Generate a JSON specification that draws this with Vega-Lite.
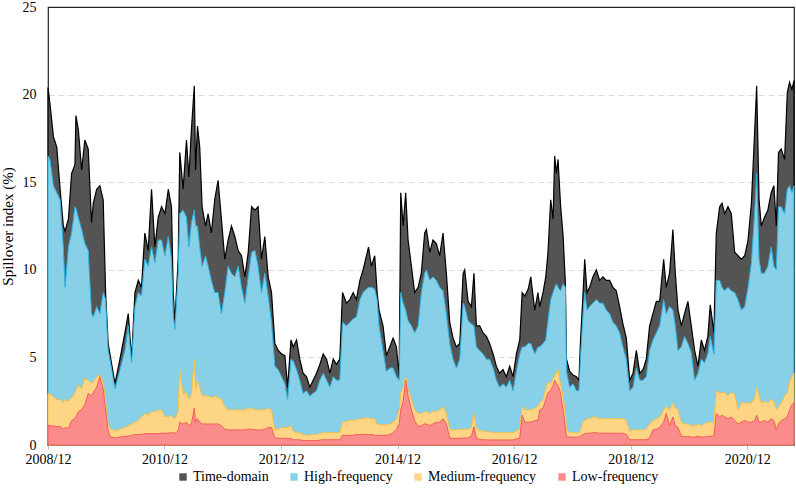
{
  "$schema": "https://vega.github.io/schema/vega-lite/v6.json",
  "width": 746,
  "height": 438,
  "autosize": {"type": "none"},
  "padding": {"left": 48, "top": 7, "right": 2, "bottom": 43},
  "background": "white",
  "config": {
    "font": "'Liberation Serif', 'Times New Roman', serif",
    "view": {"stroke": "#222222", "strokeWidth": 1.2},
    "axis": {"labelFont": "'Liberation Serif', 'Times New Roman', serif", "titleFont": "'Liberation Serif', 'Times New Roman', serif", "labelColor": "#000", "titleColor": "#000"},
    "legend": {"labelFont": "'Liberation Serif', 'Times New Roman', serif", "labelFontSize": 14, "labelColor": "#000"}
  },
  "data": {
    "values": [
      {"d": "2008-12-01", "td": 20.4, "hf": 16.5, "mf": 2.95, "lf": 1.14},
      {"d": "2008-12-13", "td": 19.5, "hf": 16.3, "mf": 2.9, "lf": 1.1},
      {"d": "2009-01-04", "td": 17.6, "hf": 14.8, "mf": 2.76, "lf": 1.09},
      {"d": "2009-01-25", "td": 17.0, "hf": 14.4, "mf": 2.6, "lf": 1.05},
      {"d": "2009-02-15", "td": 14.6, "hf": 14.0, "mf": 2.6, "lf": 1.05},
      {"d": "2009-03-07", "td": 12.5, "hf": 11.3, "mf": 2.4, "lf": 0.9},
      {"d": "2009-03-18", "td": 12.2, "hf": 9.0, "mf": 2.6, "lf": 1.0},
      {"d": "2009-04-08", "td": 12.9, "hf": 11.3, "mf": 2.5, "lf": 0.95},
      {"d": "2009-04-28", "td": 15.5, "hf": 12.1, "mf": 2.7, "lf": 1.4},
      {"d": "2009-05-19", "td": 16.0, "hf": 13.6, "mf": 3.0, "lf": 1.5},
      {"d": "2009-05-25", "td": 18.8, "hf": 13.5, "mf": 3.1, "lf": 1.6},
      {"d": "2009-06-09", "td": 18.0, "hf": 13.0, "mf": 3.4, "lf": 1.9},
      {"d": "2009-06-30", "td": 15.7, "hf": 12.3, "mf": 3.2, "lf": 2.0},
      {"d": "2009-07-20", "td": 17.4, "hf": 11.5, "mf": 3.8, "lf": 2.3},
      {"d": "2009-08-10", "td": 16.9, "hf": 11.1, "mf": 3.7, "lf": 2.95},
      {"d": "2009-08-31", "td": 12.7, "hf": 7.5, "mf": 3.5, "lf": 2.8},
      {"d": "2009-09-11", "td": 13.8, "hf": 7.3, "mf": 3.6, "lf": 3.0},
      {"d": "2009-10-02", "td": 14.6, "hf": 7.9, "mf": 3.9, "lf": 3.3},
      {"d": "2009-10-22", "td": 14.8, "hf": 7.5, "mf": 4.0, "lf": 3.9},
      {"d": "2009-11-12", "td": 14.0, "hf": 8.7, "mf": 3.6, "lf": 3.2},
      {"d": "2009-11-27", "td": 8.7, "hf": 8.3, "mf": 2.5, "lf": 2.0},
      {"d": "2009-12-13", "td": 5.8, "hf": 5.4, "mf": 1.2, "lf": 0.8},
      {"d": "2009-12-24", "td": 5.2, "hf": 4.9, "mf": 0.95, "lf": 0.48},
      {"d": "2010-01-25", "td": 3.5, "hf": 3.2, "mf": 0.8, "lf": 0.4},
      {"d": "2010-02-25", "td": 4.9, "hf": 4.3, "mf": 0.9, "lf": 0.45},
      {"d": "2010-03-28", "td": 6.4, "hf": 5.4, "mf": 1.0, "lf": 0.5},
      {"d": "2010-04-18", "td": 7.5, "hf": 6.8, "mf": 1.1, "lf": 0.5},
      {"d": "2010-05-09", "td": 4.9, "hf": 4.7, "mf": 1.2, "lf": 0.55},
      {"d": "2010-05-30", "td": 8.7, "hf": 7.9, "mf": 1.3, "lf": 0.6},
      {"d": "2010-06-20", "td": 9.4, "hf": 8.7, "mf": 1.4, "lf": 0.6},
      {"d": "2010-07-10", "td": 9.0, "hf": 8.5, "mf": 1.6, "lf": 0.6},
      {"d": "2010-07-31", "td": 12.1, "hf": 10.6, "mf": 1.8, "lf": 0.65},
      {"d": "2010-08-21", "td": 11.1, "hf": 10.2, "mf": 1.7, "lf": 0.65},
      {"d": "2010-09-11", "td": 14.6, "hf": 11.3, "mf": 1.9, "lf": 0.65},
      {"d": "2010-10-02", "td": 11.3, "hf": 10.4, "mf": 1.9, "lf": 0.65},
      {"d": "2010-10-23", "td": 13.0, "hf": 11.7, "mf": 2.0, "lf": 0.65},
      {"d": "2010-11-13", "td": 13.6, "hf": 11.7, "mf": 2.0, "lf": 0.67},
      {"d": "2010-12-04", "td": 13.2, "hf": 10.8, "mf": 1.6, "lf": 0.67},
      {"d": "2010-12-25", "td": 14.6, "hf": 11.9, "mf": 1.6, "lf": 0.67},
      {"d": "2011-01-14", "td": 13.6, "hf": 10.6, "mf": 1.7, "lf": 0.7},
      {"d": "2011-01-25", "td": 8.7, "hf": 7.5, "mf": 1.6, "lf": 0.7},
      {"d": "2011-02-04", "td": 7.0, "hf": 6.6, "mf": 1.5, "lf": 0.67},
      {"d": "2011-02-25", "td": 10.6, "hf": 9.8, "mf": 1.9, "lf": 0.8},
      {"d": "2011-03-07", "td": 16.7, "hf": 13.2, "mf": 4.3, "lf": 1.3},
      {"d": "2011-03-28", "td": 14.6, "hf": 13.4, "mf": 2.9, "lf": 1.2},
      {"d": "2011-04-18", "td": 17.4, "hf": 13.0, "mf": 3.0, "lf": 1.3},
      {"d": "2011-05-03", "td": 15.3, "hf": 11.3, "mf": 2.6, "lf": 1.1},
      {"d": "2011-05-19", "td": 18.0, "hf": 12.7, "mf": 2.9, "lf": 1.2},
      {"d": "2011-06-06", "td": 20.5, "hf": 13.4, "mf": 4.9, "lf": 2.1},
      {"d": "2011-06-14", "td": 15.7, "hf": 12.5, "mf": 3.2, "lf": 1.3},
      {"d": "2011-06-26", "td": 18.2, "hf": 12.5, "mf": 3.7, "lf": 1.5},
      {"d": "2011-07-10", "td": 17.0, "hf": 11.3, "mf": 3.3, "lf": 1.3},
      {"d": "2011-07-25", "td": 13.6, "hf": 10.2, "mf": 2.8, "lf": 1.2},
      {"d": "2011-08-15", "td": 12.5, "hf": 10.8, "mf": 2.8, "lf": 1.2},
      {"d": "2011-09-01", "td": 13.2, "hf": 10.2, "mf": 2.8, "lf": 1.2},
      {"d": "2011-09-21", "td": 12.1, "hf": 9.4, "mf": 2.7, "lf": 1.2},
      {"d": "2011-10-12", "td": 14.0, "hf": 8.7, "mf": 2.8, "lf": 1.2},
      {"d": "2011-11-02", "td": 15.1, "hf": 8.7, "mf": 2.7, "lf": 1.2},
      {"d": "2011-11-23", "td": 12.9, "hf": 7.5, "mf": 2.6, "lf": 1.1},
      {"d": "2011-12-14", "td": 10.6, "hf": 8.7, "mf": 2.2, "lf": 0.9},
      {"d": "2012-01-04", "td": 11.7, "hf": 10.2, "mf": 2.0, "lf": 0.86},
      {"d": "2012-01-25", "td": 12.5, "hf": 9.8, "mf": 2.0, "lf": 0.86},
      {"d": "2012-02-15", "td": 11.9, "hf": 9.6, "mf": 2.0, "lf": 0.86},
      {"d": "2012-03-07", "td": 11.1, "hf": 10.2, "mf": 2.0, "lf": 0.86},
      {"d": "2012-03-28", "td": 10.8, "hf": 9.0, "mf": 2.0, "lf": 0.86},
      {"d": "2012-04-18", "td": 9.6, "hf": 8.1, "mf": 2.0, "lf": 0.86},
      {"d": "2012-05-09", "td": 11.0, "hf": 9.6, "mf": 2.1, "lf": 0.9},
      {"d": "2012-05-30", "td": 13.6, "hf": 11.0, "mf": 2.1, "lf": 0.9},
      {"d": "2012-06-20", "td": 13.4, "hf": 11.1, "mf": 2.0, "lf": 0.86},
      {"d": "2012-07-10", "td": 13.6, "hf": 10.2, "mf": 2.0, "lf": 0.86},
      {"d": "2012-07-31", "td": 10.6, "hf": 8.7, "mf": 2.0, "lf": 0.86},
      {"d": "2012-08-21", "td": 11.9, "hf": 9.8, "mf": 2.0, "lf": 0.9},
      {"d": "2012-09-11", "td": 9.6, "hf": 8.5, "mf": 2.1, "lf": 1.0},
      {"d": "2012-10-02", "td": 8.7, "hf": 7.0, "mf": 2.0, "lf": 1.0},
      {"d": "2012-10-23", "td": 5.8, "hf": 4.5, "mf": 0.86, "lf": 0.4},
      {"d": "2012-11-13", "td": 5.4, "hf": 4.3, "mf": 0.9, "lf": 0.38},
      {"d": "2012-12-04", "td": 5.2, "hf": 3.9, "mf": 1.0, "lf": 0.38},
      {"d": "2012-12-25", "td": 5.1, "hf": 3.5, "mf": 1.0, "lf": 0.38},
      {"d": "2013-01-11", "td": 3.3, "hf": 2.6, "mf": 1.0, "lf": 0.38},
      {"d": "2013-02-01", "td": 6.0, "hf": 4.9, "mf": 1.1, "lf": 0.38},
      {"d": "2013-02-15", "td": 5.6, "hf": 4.8, "mf": 0.8, "lf": 0.3},
      {"d": "2013-03-08", "td": 6.0, "hf": 4.3, "mf": 0.7, "lf": 0.3},
      {"d": "2013-03-28", "td": 4.9, "hf": 3.7, "mf": 0.7, "lf": 0.3},
      {"d": "2013-04-18", "td": 4.1, "hf": 2.95, "mf": 0.6, "lf": 0.25},
      {"d": "2013-05-09", "td": 3.9, "hf": 3.1, "mf": 0.55, "lf": 0.25},
      {"d": "2013-05-30", "td": 3.3, "hf": 2.8, "mf": 0.55, "lf": 0.25},
      {"d": "2013-06-20", "td": 3.7, "hf": 2.95, "mf": 0.6, "lf": 0.25},
      {"d": "2013-07-11", "td": 4.1, "hf": 3.1, "mf": 0.6, "lf": 0.25},
      {"d": "2013-08-01", "td": 4.6, "hf": 3.7, "mf": 0.65, "lf": 0.28},
      {"d": "2013-08-22", "td": 5.2, "hf": 4.1, "mf": 0.7, "lf": 0.3},
      {"d": "2013-09-12", "td": 4.9, "hf": 3.7, "mf": 0.7, "lf": 0.3},
      {"d": "2013-10-03", "td": 4.1, "hf": 3.3, "mf": 0.7, "lf": 0.3},
      {"d": "2013-10-24", "td": 4.9, "hf": 3.9, "mf": 0.7, "lf": 0.3},
      {"d": "2013-11-13", "td": 4.6, "hf": 3.7, "mf": 0.7, "lf": 0.3},
      {"d": "2013-12-04", "td": 4.9, "hf": 3.7, "mf": 0.7, "lf": 0.3},
      {"d": "2013-12-21", "td": 8.7, "hf": 7.0, "mf": 1.3, "lf": 0.55},
      {"d": "2014-01-15", "td": 8.1, "hf": 6.8, "mf": 1.35, "lf": 0.55},
      {"d": "2014-02-05", "td": 8.3, "hf": 7.0, "mf": 1.4, "lf": 0.55},
      {"d": "2014-02-26", "td": 8.7, "hf": 7.2, "mf": 1.4, "lf": 0.55},
      {"d": "2014-03-18", "td": 8.3, "hf": 7.3, "mf": 1.45, "lf": 0.6},
      {"d": "2014-04-09", "td": 9.4, "hf": 8.3, "mf": 1.5, "lf": 0.6},
      {"d": "2014-04-29", "td": 10.0, "hf": 8.7, "mf": 1.5, "lf": 0.6},
      {"d": "2014-05-20", "td": 10.8, "hf": 8.9, "mf": 1.55, "lf": 0.6},
      {"d": "2014-06-02", "td": 11.3, "hf": 9.0, "mf": 1.55, "lf": 0.6},
      {"d": "2014-06-20", "td": 10.2, "hf": 9.0, "mf": 1.5, "lf": 0.6},
      {"d": "2014-07-11", "td": 10.8, "hf": 8.9, "mf": 1.5, "lf": 0.55},
      {"d": "2014-07-26", "td": 8.7, "hf": 8.3, "mf": 1.2, "lf": 0.55},
      {"d": "2014-08-07", "td": 7.7, "hf": 6.8, "mf": 1.15, "lf": 0.55},
      {"d": "2014-09-01", "td": 6.8, "hf": 5.4, "mf": 1.15, "lf": 0.55},
      {"d": "2014-09-22", "td": 5.1, "hf": 4.2, "mf": 1.15, "lf": 0.55},
      {"d": "2014-10-13", "td": 5.6, "hf": 4.4, "mf": 1.2, "lf": 0.6},
      {"d": "2014-11-03", "td": 6.1, "hf": 4.4, "mf": 1.3, "lf": 0.7},
      {"d": "2014-11-24", "td": 5.6, "hf": 3.9, "mf": 1.5, "lf": 0.9},
      {"d": "2014-12-11", "td": 3.9, "hf": 3.7, "mf": 2.0, "lf": 1.2},
      {"d": "2014-12-21", "td": 14.4, "hf": 8.7, "mf": 2.95, "lf": 2.0},
      {"d": "2015-01-05", "td": 12.5, "hf": 8.1, "mf": 3.3, "lf": 2.5},
      {"d": "2015-01-21", "td": 14.4, "hf": 7.7, "mf": 3.9, "lf": 3.7},
      {"d": "2015-02-05", "td": 11.7, "hf": 7.1, "mf": 3.2, "lf": 2.8},
      {"d": "2015-02-26", "td": 10.2, "hf": 6.8, "mf": 2.6, "lf": 2.0},
      {"d": "2015-03-18", "td": 8.7, "hf": 6.4, "mf": 2.0, "lf": 1.4},
      {"d": "2015-04-09", "td": 9.0, "hf": 6.8, "mf": 1.8, "lf": 1.05},
      {"d": "2015-04-29", "td": 9.8, "hf": 8.7, "mf": 1.8, "lf": 1.1},
      {"d": "2015-05-20", "td": 12.1, "hf": 9.8, "mf": 1.9, "lf": 1.2},
      {"d": "2015-05-31", "td": 12.3, "hf": 10.0, "mf": 1.9, "lf": 1.2},
      {"d": "2015-06-21", "td": 11.0, "hf": 9.4, "mf": 1.8, "lf": 1.1},
      {"d": "2015-07-11", "td": 11.7, "hf": 9.6, "mf": 1.9, "lf": 1.2},
      {"d": "2015-08-01", "td": 11.5, "hf": 9.4, "mf": 1.9, "lf": 1.3},
      {"d": "2015-08-22", "td": 10.8, "hf": 9.0, "mf": 2.0, "lf": 1.3},
      {"d": "2015-09-12", "td": 12.1, "hf": 8.8, "mf": 2.2, "lf": 1.5},
      {"d": "2015-10-03", "td": 9.8, "hf": 7.5, "mf": 1.8, "lf": 1.2},
      {"d": "2015-10-24", "td": 7.0, "hf": 5.8, "mf": 0.86, "lf": 0.4},
      {"d": "2015-11-14", "td": 6.1, "hf": 4.9, "mf": 0.86, "lf": 0.38},
      {"d": "2015-12-05", "td": 5.6, "hf": 4.4, "mf": 0.86, "lf": 0.38},
      {"d": "2015-12-26", "td": 5.8, "hf": 4.9, "mf": 0.9, "lf": 0.38},
      {"d": "2016-01-16", "td": 9.8, "hf": 8.1, "mf": 0.9, "lf": 0.4},
      {"d": "2016-01-26", "td": 10.0, "hf": 7.9, "mf": 0.9, "lf": 0.4},
      {"d": "2016-02-16", "td": 8.2, "hf": 7.1, "mf": 0.9, "lf": 0.4},
      {"d": "2016-03-08", "td": 7.9, "hf": 6.9, "mf": 1.0, "lf": 0.5},
      {"d": "2016-03-24", "td": 9.8, "hf": 6.8, "mf": 1.8, "lf": 1.05},
      {"d": "2016-04-08", "td": 6.8, "hf": 5.6, "mf": 1.0, "lf": 0.4},
      {"d": "2016-04-29", "td": 6.8, "hf": 5.4, "mf": 0.8, "lf": 0.3},
      {"d": "2016-05-20", "td": 6.4, "hf": 5.2, "mf": 0.8, "lf": 0.3},
      {"d": "2016-06-10", "td": 6.2, "hf": 4.9, "mf": 0.76, "lf": 0.29},
      {"d": "2016-06-30", "td": 5.8, "hf": 4.9, "mf": 0.76, "lf": 0.29},
      {"d": "2016-07-22", "td": 5.2, "hf": 4.4, "mf": 0.7, "lf": 0.29},
      {"d": "2016-08-11", "td": 4.5, "hf": 3.7, "mf": 0.7, "lf": 0.29},
      {"d": "2016-09-01", "td": 4.1, "hf": 3.3, "mf": 0.7, "lf": 0.29},
      {"d": "2016-09-22", "td": 4.3, "hf": 3.5, "mf": 0.7, "lf": 0.29},
      {"d": "2016-10-13", "td": 3.9, "hf": 3.3, "mf": 0.7, "lf": 0.29},
      {"d": "2016-11-03", "td": 4.5, "hf": 3.7, "mf": 0.7, "lf": 0.29},
      {"d": "2016-11-24", "td": 3.9, "hf": 3.1, "mf": 0.7, "lf": 0.29},
      {"d": "2016-12-15", "td": 5.2, "hf": 4.2, "mf": 0.8, "lf": 0.35},
      {"d": "2017-01-05", "td": 6.0, "hf": 5.2, "mf": 0.9, "lf": 0.4},
      {"d": "2017-01-20", "td": 8.7, "hf": 5.6, "mf": 2.2, "lf": 1.7},
      {"d": "2017-02-06", "td": 8.5, "hf": 5.6, "mf": 2.0, "lf": 1.3},
      {"d": "2017-02-27", "td": 8.9, "hf": 5.8, "mf": 2.0, "lf": 1.3},
      {"d": "2017-03-15", "td": 9.6, "hf": 5.8, "mf": 2.0, "lf": 1.3},
      {"d": "2017-04-09", "td": 7.7, "hf": 5.2, "mf": 2.1, "lf": 1.4},
      {"d": "2017-04-29", "td": 8.7, "hf": 5.6, "mf": 2.2, "lf": 1.4},
      {"d": "2017-05-10", "td": 7.9, "hf": 5.6, "mf": 2.4, "lf": 2.0},
      {"d": "2017-05-31", "td": 8.7, "hf": 5.8, "mf": 2.6, "lf": 2.1},
      {"d": "2017-06-17", "td": 9.6, "hf": 6.0, "mf": 3.2, "lf": 2.6},
      {"d": "2017-07-01", "td": 11.0, "hf": 7.1, "mf": 3.6, "lf": 3.0},
      {"d": "2017-07-18", "td": 14.0, "hf": 8.3, "mf": 3.5, "lf": 3.1},
      {"d": "2017-08-02", "td": 12.9, "hf": 8.7, "mf": 3.8, "lf": 3.4},
      {"d": "2017-08-12", "td": 16.5, "hf": 9.0, "mf": 4.0, "lf": 3.7},
      {"d": "2017-08-23", "td": 15.5, "hf": 9.2, "mf": 4.1, "lf": 3.5},
      {"d": "2017-09-02", "td": 16.3, "hf": 9.0, "mf": 4.3, "lf": 3.4},
      {"d": "2017-09-17", "td": 13.8, "hf": 8.8, "mf": 3.5, "lf": 3.0},
      {"d": "2017-10-04", "td": 11.9, "hf": 9.2, "mf": 2.76, "lf": 2.0},
      {"d": "2017-10-18", "td": 9.2, "hf": 9.0, "mf": 1.8, "lf": 1.0},
      {"d": "2017-10-25", "td": 4.9, "hf": 4.2, "mf": 0.86, "lf": 0.48},
      {"d": "2017-11-14", "td": 4.2, "hf": 3.3, "mf": 0.7, "lf": 0.45},
      {"d": "2017-12-05", "td": 4.0, "hf": 3.5, "mf": 0.7, "lf": 0.45},
      {"d": "2017-12-26", "td": 3.9, "hf": 3.1, "mf": 0.7, "lf": 0.45},
      {"d": "2018-01-11", "td": 3.7, "hf": 3.1, "mf": 0.7, "lf": 0.45},
      {"d": "2018-01-20", "td": 5.8, "hf": 4.9, "mf": 0.8, "lf": 0.5},
      {"d": "2018-02-06", "td": 8.7, "hf": 7.5, "mf": 1.3, "lf": 0.6},
      {"d": "2018-02-16", "td": 10.6, "hf": 8.7, "mf": 1.4, "lf": 0.65},
      {"d": "2018-03-03", "td": 8.7, "hf": 7.7, "mf": 1.5, "lf": 0.67},
      {"d": "2018-03-19", "td": 9.0, "hf": 7.9, "mf": 1.5, "lf": 0.67},
      {"d": "2018-04-09", "td": 9.6, "hf": 8.1, "mf": 1.6, "lf": 0.7},
      {"d": "2018-04-30", "td": 10.0, "hf": 8.3, "mf": 1.6, "lf": 0.7},
      {"d": "2018-05-21", "td": 9.4, "hf": 8.1, "mf": 1.5, "lf": 0.67},
      {"d": "2018-06-10", "td": 9.6, "hf": 8.1, "mf": 1.5, "lf": 0.67},
      {"d": "2018-07-01", "td": 9.4, "hf": 7.7, "mf": 1.5, "lf": 0.67},
      {"d": "2018-07-22", "td": 9.4, "hf": 7.5, "mf": 1.5, "lf": 0.67},
      {"d": "2018-08-12", "td": 9.0, "hf": 7.0, "mf": 1.5, "lf": 0.67},
      {"d": "2018-09-02", "td": 8.8, "hf": 6.8, "mf": 1.5, "lf": 0.67},
      {"d": "2018-09-23", "td": 7.9, "hf": 6.4, "mf": 1.5, "lf": 0.67},
      {"d": "2018-10-14", "td": 6.9, "hf": 5.6, "mf": 1.5, "lf": 0.67},
      {"d": "2018-11-04", "td": 6.1, "hf": 4.9, "mf": 1.4, "lf": 0.6},
      {"d": "2018-11-25", "td": 3.7, "hf": 3.1, "mf": 0.8, "lf": 0.3},
      {"d": "2018-12-16", "td": 4.1, "hf": 3.3, "mf": 0.86, "lf": 0.3},
      {"d": "2019-01-06", "td": 5.4, "hf": 4.4, "mf": 0.86, "lf": 0.3},
      {"d": "2019-01-27", "td": 4.1, "hf": 3.7, "mf": 0.86, "lf": 0.3},
      {"d": "2019-02-17", "td": 4.3, "hf": 3.7, "mf": 0.86, "lf": 0.3},
      {"d": "2019-03-09", "td": 4.9, "hf": 3.9, "mf": 0.9, "lf": 0.3},
      {"d": "2019-03-30", "td": 6.8, "hf": 5.4, "mf": 1.2, "lf": 0.4},
      {"d": "2019-04-20", "td": 7.5, "hf": 6.0, "mf": 1.4, "lf": 0.86},
      {"d": "2019-05-11", "td": 8.2, "hf": 6.4, "mf": 1.5, "lf": 0.9},
      {"d": "2019-06-01", "td": 8.2, "hf": 6.8, "mf": 1.6, "lf": 1.0},
      {"d": "2019-06-26", "td": 10.6, "hf": 8.3, "mf": 2.0, "lf": 1.3},
      {"d": "2019-07-12", "td": 9.0, "hf": 7.5, "mf": 2.2, "lf": 1.8},
      {"d": "2019-08-02", "td": 9.8, "hf": 7.9, "mf": 2.0, "lf": 1.1},
      {"d": "2019-08-23", "td": 12.3, "hf": 7.7, "mf": 2.4, "lf": 1.6},
      {"d": "2019-09-07", "td": 9.8, "hf": 6.8, "mf": 2.1, "lf": 1.1},
      {"d": "2019-09-24", "td": 7.7, "hf": 5.4, "mf": 2.0, "lf": 1.0},
      {"d": "2019-10-15", "td": 6.8, "hf": 5.6, "mf": 1.3, "lf": 0.5},
      {"d": "2019-11-04", "td": 7.5, "hf": 6.2, "mf": 1.2, "lf": 0.48},
      {"d": "2019-11-25", "td": 8.2, "hf": 5.8, "mf": 1.2, "lf": 0.48},
      {"d": "2019-12-16", "td": 6.8, "hf": 5.3, "mf": 1.1, "lf": 0.45},
      {"d": "2020-01-06", "td": 5.4, "hf": 3.7, "mf": 1.1, "lf": 0.45},
      {"d": "2020-01-27", "td": 4.5, "hf": 4.1, "mf": 1.2, "lf": 0.5},
      {"d": "2020-02-17", "td": 6.0, "hf": 4.9, "mf": 1.1, "lf": 0.45},
      {"d": "2020-03-08", "td": 5.4, "hf": 4.7, "mf": 1.2, "lf": 0.45},
      {"d": "2020-03-29", "td": 6.2, "hf": 5.2, "mf": 1.3, "lf": 0.5},
      {"d": "2020-04-13", "td": 8.0, "hf": 6.2, "mf": 1.3, "lf": 0.5},
      {"d": "2020-05-06", "td": 6.4, "hf": 5.2, "mf": 1.3, "lf": 0.5},
      {"d": "2020-05-21", "td": 12.1, "hf": 9.4, "mf": 3.1, "lf": 1.8},
      {"d": "2020-06-11", "td": 13.6, "hf": 9.4, "mf": 2.95, "lf": 1.6},
      {"d": "2020-06-26", "td": 13.8, "hf": 9.0, "mf": 3.0, "lf": 1.7},
      {"d": "2020-07-12", "td": 13.2, "hf": 8.8, "mf": 3.0, "lf": 1.6},
      {"d": "2020-08-02", "td": 13.6, "hf": 9.0, "mf": 2.8, "lf": 1.5},
      {"d": "2020-08-23", "td": 13.2, "hf": 8.8, "mf": 3.0, "lf": 1.6},
      {"d": "2020-09-13", "td": 11.0, "hf": 8.7, "mf": 2.9, "lf": 1.4},
      {"d": "2020-10-04", "td": 10.8, "hf": 8.3, "mf": 2.0, "lf": 1.2},
      {"d": "2020-10-25", "td": 10.6, "hf": 7.7, "mf": 2.4, "lf": 1.3},
      {"d": "2020-11-15", "td": 10.8, "hf": 7.9, "mf": 2.4, "lf": 1.4},
      {"d": "2020-12-06", "td": 11.7, "hf": 9.0, "mf": 2.4, "lf": 1.3},
      {"d": "2020-12-27", "td": 13.8, "hf": 10.4, "mf": 2.4, "lf": 1.3},
      {"d": "2021-01-17", "td": 18.0, "hf": 13.4, "mf": 2.7, "lf": 1.4},
      {"d": "2021-01-29", "td": 20.5, "hf": 15.5, "mf": 3.3, "lf": 1.7},
      {"d": "2021-02-13", "td": 14.0, "hf": 10.6, "mf": 2.8, "lf": 1.3},
      {"d": "2021-02-27", "td": 12.5, "hf": 9.8, "mf": 2.4, "lf": 1.3},
      {"d": "2021-03-19", "td": 13.0, "hf": 9.8, "mf": 2.5, "lf": 1.4},
      {"d": "2021-04-09", "td": 13.4, "hf": 10.2, "mf": 2.4, "lf": 1.3},
      {"d": "2021-04-30", "td": 14.4, "hf": 11.3, "mf": 2.6, "lf": 1.5},
      {"d": "2021-05-17", "td": 14.8, "hf": 10.2, "mf": 2.5, "lf": 1.4},
      {"d": "2021-06-01", "td": 12.5, "hf": 10.0, "mf": 2.0, "lf": 0.86},
      {"d": "2021-06-15", "td": 16.7, "hf": 13.6, "mf": 2.2, "lf": 1.2},
      {"d": "2021-07-02", "td": 16.9, "hf": 13.6, "mf": 2.4, "lf": 1.4},
      {"d": "2021-07-23", "td": 16.3, "hf": 13.2, "mf": 2.8, "lf": 1.5},
      {"d": "2021-08-09", "td": 20.1, "hf": 14.6, "mf": 3.0, "lf": 1.6},
      {"d": "2021-08-23", "td": 20.7, "hf": 14.8, "mf": 3.6, "lf": 2.0},
      {"d": "2021-09-07", "td": 20.3, "hf": 14.4, "mf": 3.9, "lf": 2.3},
      {"d": "2021-09-20", "td": 20.8, "hf": 14.8, "mf": 4.1, "lf": 2.4}
    ]
  },
  "encoding": {
    "x": {
      "field": "d",
      "type": "temporal",
      "scale": {
        "type": "utc",
        "domain": [
          {"year": 2008, "month": 12, "date": 1, "utc": true},
          {"year": 2021, "month": 9, "date": 20, "utc": true}
        ],
        "nice": false
      },
      "axis": {
        "title": null,
        "values": [
          {"year": 2008, "month": 12, "date": 1, "utc": true},
          {"year": 2010, "month": 12, "date": 1, "utc": true},
          {"year": 2012, "month": 12, "date": 1, "utc": true},
          {"year": 2014, "month": 12, "date": 1, "utc": true},
          {"year": 2016, "month": 12, "date": 1, "utc": true},
          {"year": 2018, "month": 12, "date": 1, "utc": true},
          {"year": 2020, "month": 12, "date": 1, "utc": true}
        ],
        "format": "%Y/%m",
        "grid": false,
        "labelFontSize": 14,
        "labelPadding": 3,
        "labelFlush": false,
        "labelOverlap": false,
        "labelBound": false,
        "tickSize": 4,
        "tickColor": "#bfbfbf",
        "domainColor": "#bfbfbf"
      }
    }
  },
  "layer": [
    {
      "mark": {"type": "area", "stroke": "#000000", "strokeWidth": 1.2},
      "encoding": {
        "y": {
          "field": "td",
          "type": "quantitative",
          "title": "Spillover index (%)",
          "scale": {"domain": [0, 25], "nice": false},
          "axis": {
            "titleFontSize": 15,
            "titleFontWeight": "normal",
            "titlePadding": 7,
            "values": [0, 5, 10, 15, 20, 25],
            "labelFontSize": 14,
            "labelPadding": 12,
            "ticks": false,
            "domain": false,
            "grid": true,
            "gridColor": {"condition": {"test": "datum.value >= 25", "value": "#222222"}, "value": "#d5dbe5"},
            "gridDash": {"condition": {"test": "datum.value >= 25", "value": []}, "value": [6, 4]},
            "gridWidth": {"condition": {"test": "datum.value >= 25", "value": 1.2}, "value": 1}
          }
        },
        "color": {
          "datum": "Time-domain",
          "type": "nominal",
          "scale": {
            "domain": ["Time-domain", "High-frequency", "Medium-frequency", "Low-frequency"],
            "range": ["#545454", "#88cfe8", "#fdd585", "#fa8c8c"]
          },
          "legend": {
            "orient": "none",
            "legendX": 128,
            "legendY": 463,
            "direction": "horizontal",
            "title": null,
            "symbolType": "square",
            "symbolSize": 55,
            "symbolStrokeWidth": 0,
            "symbolOpacity": 1,
            "labelFontSize": 14,
            "labelColor": "#000",
            "labelOffset": 3,
            "columnPadding": 18
          }
        }
      }
    },
    {
      "mark": {"type": "area", "stroke": "#2eb3de", "strokeWidth": 1},
      "encoding": {
        "y": {"field": "hf", "type": "quantitative", "title": "Spillover index (%)"},
        "color": {"datum": "High-frequency", "type": "nominal"}
      }
    },
    {
      "mark": {"type": "area", "stroke": "#f5c04a", "strokeWidth": 1},
      "encoding": {
        "y": {"field": "mf", "type": "quantitative", "title": "Spillover index (%)"},
        "color": {"datum": "Medium-frequency", "type": "nominal"}
      }
    },
    {
      "mark": {"type": "area", "stroke": "#f65c5c", "strokeWidth": 1},
      "encoding": {
        "y": {"field": "lf", "type": "quantitative", "title": "Spillover index (%)"},
        "color": {"datum": "Low-frequency", "type": "nominal"}
      }
    }
  ]
}
